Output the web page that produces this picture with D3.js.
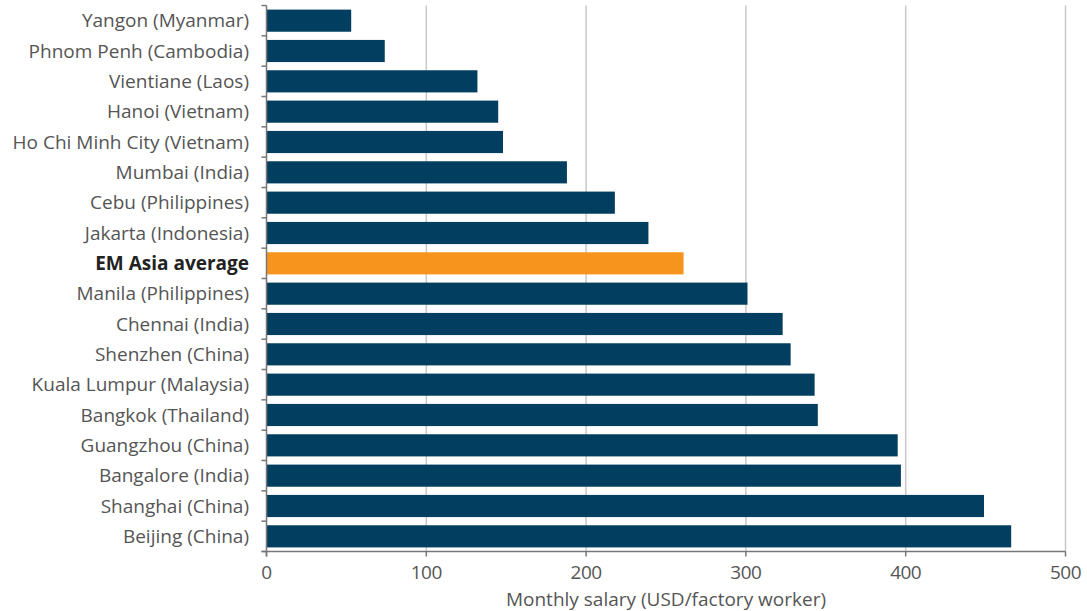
<!DOCTYPE html>
<meta charset="utf-8">
<style>
body { margin: 0; background: #fff; }
.lbl { font-family: "Open Sans", sans-serif; font-size: 19px; fill: #555; }
.tick { font-size: 19px; letter-spacing: -0.5px; }
</style>
<script src="https://d3js.org/d3.v7.min.js"></script>
<body>
<script>

var cities = ["Yangon (Myanmar)", "Phnom Penh (Cambodia)", "Vientiane (Laos)", "Hanoi (Vietnam)",
  "Ho Chi Minh City (Vietnam)", "Mumbai (India)", "Cebu (Philippines)", "Jakarta (Indonesia)",
  "EM Asia average", "Manila (Philippines)", "Chennai (India)", "Shenzhen (China)",
  "Kuala Lumpur (Malaysia)", "Bangkok (Thailand)", "Guangzhou (China)", "Bangalore (India)",
  "Shanghai (China)", "Beijing (China)"];
var salary = [53, 74, 132, 145, 148, 188, 218, 239, 261, 301, 323, 328, 343, 345, 395, 397, 449, 466];
var xTicks = [0, 100, 200, 300, 400, 500];
var highlight = "EM Asia average";
var xTitle = "Monthly salary (USD/factory worker)";

var w = 1087, h = 611;
var mLeft = 266.5, mRight = 1065.5, mTop = 5.5, mBottom = 551.5;

var svg = d3.select("body").append("svg")
  .attr("width", w)
  .attr("height", h);

var x = d3.scaleLinear().domain([0, 500]).range([mLeft, mRight]);
var y = d3.scaleBand().domain(cities).range([mTop, mBottom]).paddingInner(0.27).paddingOuter(0.135);

// grid
svg.selectAll("line.grid")
  .data(xTicks.slice(1))
  .enter().append("line")
  .attr("x1", d => x(d)).attr("x2", d => x(d))
  .attr("y1", mTop).attr("y2", mBottom)
  .attr("stroke", "#c8c8c8")
  .attr("stroke-width", 1.5);

svg.selectAll("rect")
  .data(cities)
  .enter().append("rect")
  .attr("x", x(0) + 0.5)
  .attr("y", d => y(d))
  .attr("height", y.bandwidth())
  .attr("width", (d, i) => x(salary[i]) - x(0) - 0.5)
  .attr("fill", d => d == highlight ? "#f7941d" : "#023e60");

// y axis
var step = y.step();
var bounds = d3.range(cities.length + 1).map(i => mTop + i * step);
svg.append("line")
  .attr("x1", mLeft).attr("x2", mLeft).attr("y1", mTop).attr("y2", mBottom + 5)
  .attr("stroke", "#777").attr("stroke-width", 1.5);
svg.selectAll("line.yt")
  .data(bounds)
  .enter().append("line")
  .attr("x1", mLeft - 5).attr("x2", mLeft)
  .attr("y1", d => d).attr("y2", d => d)
  .attr("stroke", "#777").attr("stroke-width", 1.5);

svg.selectAll("text.yl")
  .data(cities)
  .enter().append("text")
  .attr("class", "lbl")
  .attr("x", 249)
  .attr("y", d => y(d) + y.bandwidth() / 2)
  .attr("dy", "0.35em")
  .attr("text-anchor", "end")
  .style("font-weight", d => d == highlight ? "bold" : null)
  .style("fill", d => d == highlight ? "#222" : null)
  .text(d => d);

// x axis
svg.append("line")
  .attr("x1", mLeft - 5).attr("x2", mRight).attr("y1", mBottom).attr("y2", mBottom)
  .attr("stroke", "#777").attr("stroke-width", 1.5);
svg.selectAll("line.xt")
  .data(xTicks)
  .enter().append("line")
  .attr("x1", d => x(d)).attr("x2", d => x(d))
  .attr("y1", mBottom).attr("y2", mBottom + 5)
  .attr("stroke", "#777").attr("stroke-width", 1.5);
svg.selectAll("text.xl")
  .data(xTicks)
  .enter().append("text")
  .attr("class", "lbl tick")
  .attr("x", d => x(d))
  .attr("y", 572)
  .attr("dy", "0.35em")
  .attr("text-anchor", "middle")
  .text(d => d);

svg.append("text")
  .attr("class", "lbl")
  .attr("x", x(250))
  .attr("y", 599)
  .attr("dy", "0.35em")
  .attr("text-anchor", "middle")
  .text(xTitle);

</script>
